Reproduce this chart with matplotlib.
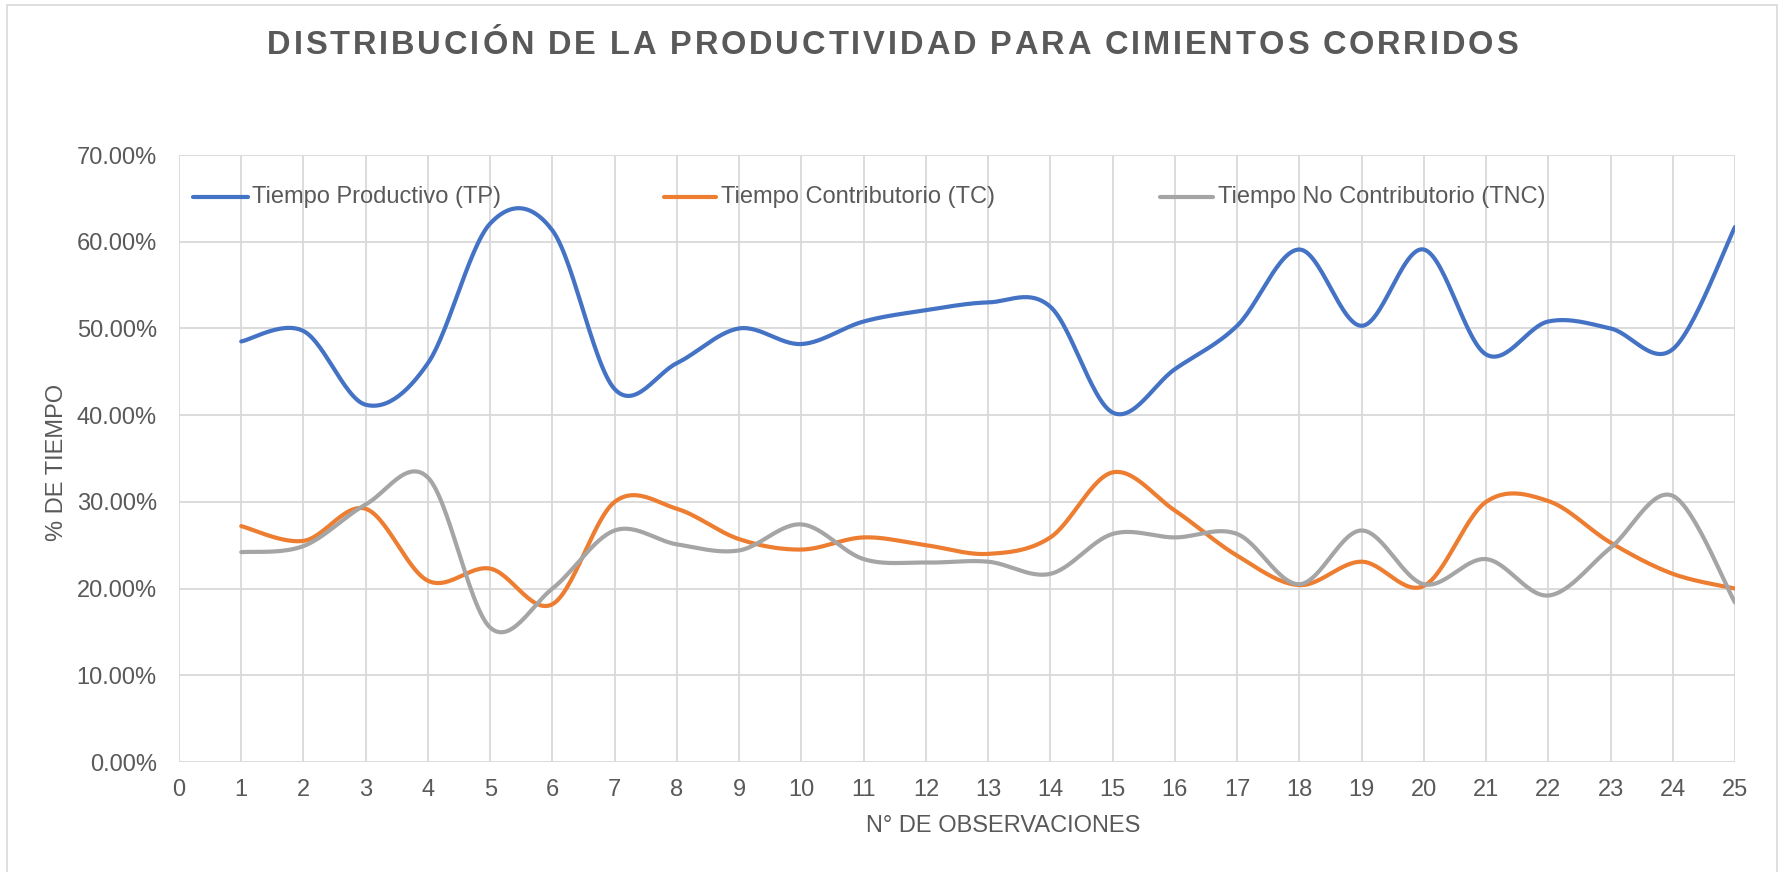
import numpy as np
import matplotlib
matplotlib.use("Agg")
import matplotlib.pyplot as plt
from matplotlib.lines import Line2D
from matplotlib.patches import Rectangle
from matplotlib import font_manager

# ---------------- data ----------------
observaciones = list(range(1, 26))
tp = [48.5, 49.7, 41.2, 46.0, 62.1, 61.3, 43.0, 46.0, 50.0, 48.2,
      50.8, 52.1, 53.0, 52.5, 40.3, 45.3, 50.3, 59.1, 50.3, 59.1,
      47.0, 50.8, 50.0, 47.6, 61.7]
tc = [27.2, 25.5, 29.2, 20.9, 22.3, 18.2, 30.0, 29.2, 25.7, 24.5,
      25.9, 25.0, 24.0, 25.9, 33.4, 29.0, 23.8, 20.4, 23.1, 20.3,
      30.0, 30.1, 25.3, 21.7, 20.0]
tnc = [24.2, 24.9, 29.7, 32.8, 15.5, 20.0, 26.7, 25.1, 24.4, 27.4,
       23.4, 23.0, 23.1, 21.7, 26.3, 25.9, 26.3, 20.5, 26.7, 20.5,
       23.4, 19.2, 24.7, 30.7, 18.4]
series_names = ["Tiempo Productivo (TP)", "Tiempo Contributorio (TC)",
                "Tiempo No Contributorio (TNC)"]
series_colors = ["#4472C4", "#ED7D31", "#A5A5A5"]
title = "DISTRIBUCIÓN DE LA PRODUCTIVIDAD PARA CIMIENTOS CORRIDOS"
x_ticks = list(range(0, 26))
y_ticks = [0, 10, 20, 30, 40, 50, 60, 70]

# ---------------- helpers ----------------
def smooth(xs, ys, n=30):
    P = np.column_stack([np.asarray(xs, float), np.asarray(ys, float)])
    out = []
    m = len(P)
    for i in range(m - 1):
        p0 = P[i - 1] if i > 0 else P[i]
        p1 = P[i]
        p2 = P[i + 1]
        p3 = P[i + 2] if i + 2 < m else P[i + 1]
        c1 = p1 + (p2 - p0) / 6.0
        c2 = p2 - (p3 - p1) / 6.0
        t = np.linspace(0, 1, n, endpoint=(i == m - 2))[:, None]
        seg = ((1 - t) ** 3) * p1 + 3 * ((1 - t) ** 2) * t * c1 + 3 * (1 - t) * t ** 2 * c2 + t ** 3 * p2
        out.append(seg)
    out = np.vstack(out)
    return out[:, 0], out[:, 1]

def has_font(name):
    try:
        font_manager.findfont(font_manager.FontProperties(family=name),
                              fallback_to_default=False)
        return True
    except Exception:
        return False

W, H = 1785, 872
DPI = 100
TXT = "#595959"
FONT = "Liberation Sans"
NARROW = has_font("Liberation Sans Narrow")

fig = plt.figure(figsize=(W / DPI, H / DPI), dpi=DPI)
fig.patch.set_facecolor("white")

def fx(px):
    return px / W

def fy(py):
    return 1 - py / H

# chart frame
fig.add_artist(Rectangle((fx(7), fy(900)), fx(1777) - fx(7), fy(5) - fy(900),
                         transform=fig.transFigure, fill=False,
                         edgecolor="#D9D9D9", linewidth=1.2))

ax_left, ax_right, ax_top, ax_bottom = 179, 1735, 155, 762
ax = fig.add_axes([fx(ax_left), fy(ax_bottom), fx(ax_right) - fx(ax_left),
                   fy(ax_top) - fy(ax_bottom)])
ax.set_xlim(0, 25)
ax.set_ylim(0, 70)
for s in ax.spines.values():
    s.set_visible(False)
ax.set_xticks(x_ticks)
ax.set_yticks(y_ticks)
ax.set_xticklabels([str(v) for v in x_ticks])
ax.set_yticklabels([f"{v:.2f}%" for v in y_ticks])
ax.tick_params(axis="both", length=0, labelsize=17, labelcolor=TXT)
ax.tick_params(axis="y", pad=16)
ax.tick_params(axis="x", pad=12)
for lab in ax.get_xticklabels() + ax.get_yticklabels():
    lab.set_fontfamily(FONT)
ax.grid(True, color="#D9D9D9", linewidth=1.3)
ax.set_axisbelow(True)

for vals, color in zip([tp, tc, tnc], series_colors):
    sx, sy = smooth(observaciones, vals)
    ax.plot(sx, sy, color=color, linewidth=3.0, solid_capstyle="round", zorder=3)

# legend (manual)
leg_items = [(193, 248, 252), (664, 716, 721), (1160, 1213, 1218)]
leg_y = 197
for (l0, l1, tx), name, color in zip(leg_items, series_names, series_colors):
    fig.add_artist(Line2D([fx(l0), fx(l1)], [fy(leg_y), fy(leg_y)],
                          transform=fig.transFigure, color=color,
                          linewidth=3.0, solid_capstyle="round"))
    fig.text(fx(tx), fy(leg_y), name, fontsize=17, color=TXT, family=FONT,
             ha="left", va="center")

# axis titles
fig.text(fx(57), fy(462), "% DE TIEMPO", rotation=90, fontsize=17, color=TXT,
         family=FONT, ha="center", va="center")
fig.text(fx(1003), fy(826), "N° DE OBSERVACIONES", fontsize=17, color=TXT,
         family=FONT, ha="center", va="center")

# title with letter spacing, spread over the same span as the reference
renderer = fig.canvas.get_renderer()
if NARROW:
    title_family = ["Liberation Sans Narrow", FONT]
    title_fs = 25
else:
    title_family = [FONT]
    title_fs = 23.5
title_left, title_right, title_cy = 267, 1518, 46
fp = font_manager.FontProperties(family=title_family, weight="bold", size=title_fs)
widths = []
for ch in title:
    if ch == " ":
        widths.append(title_fs * DPI / 72 * 0.25)
    else:
        t = fig.text(0, 0, ch, fontproperties=fp)
        widths.append(t.get_window_extent(renderer).width)
        t.remove()
spacing = max(1.0, ((title_right - title_left) - sum(widths)) / (len(title) - 1))
total = sum(widths) + spacing * (len(title) - 1)
x = (title_left + title_right) / 2 - total / 2
for ch, w in zip(title, widths):
    if ch != " ":
        fig.text(fx(x), fy(title_cy), ch, fontproperties=fp, color=TXT,
                 ha="left", va="center")
    x += w + spacing

fig.savefig("out.png", dpi=DPI, facecolor="white")
